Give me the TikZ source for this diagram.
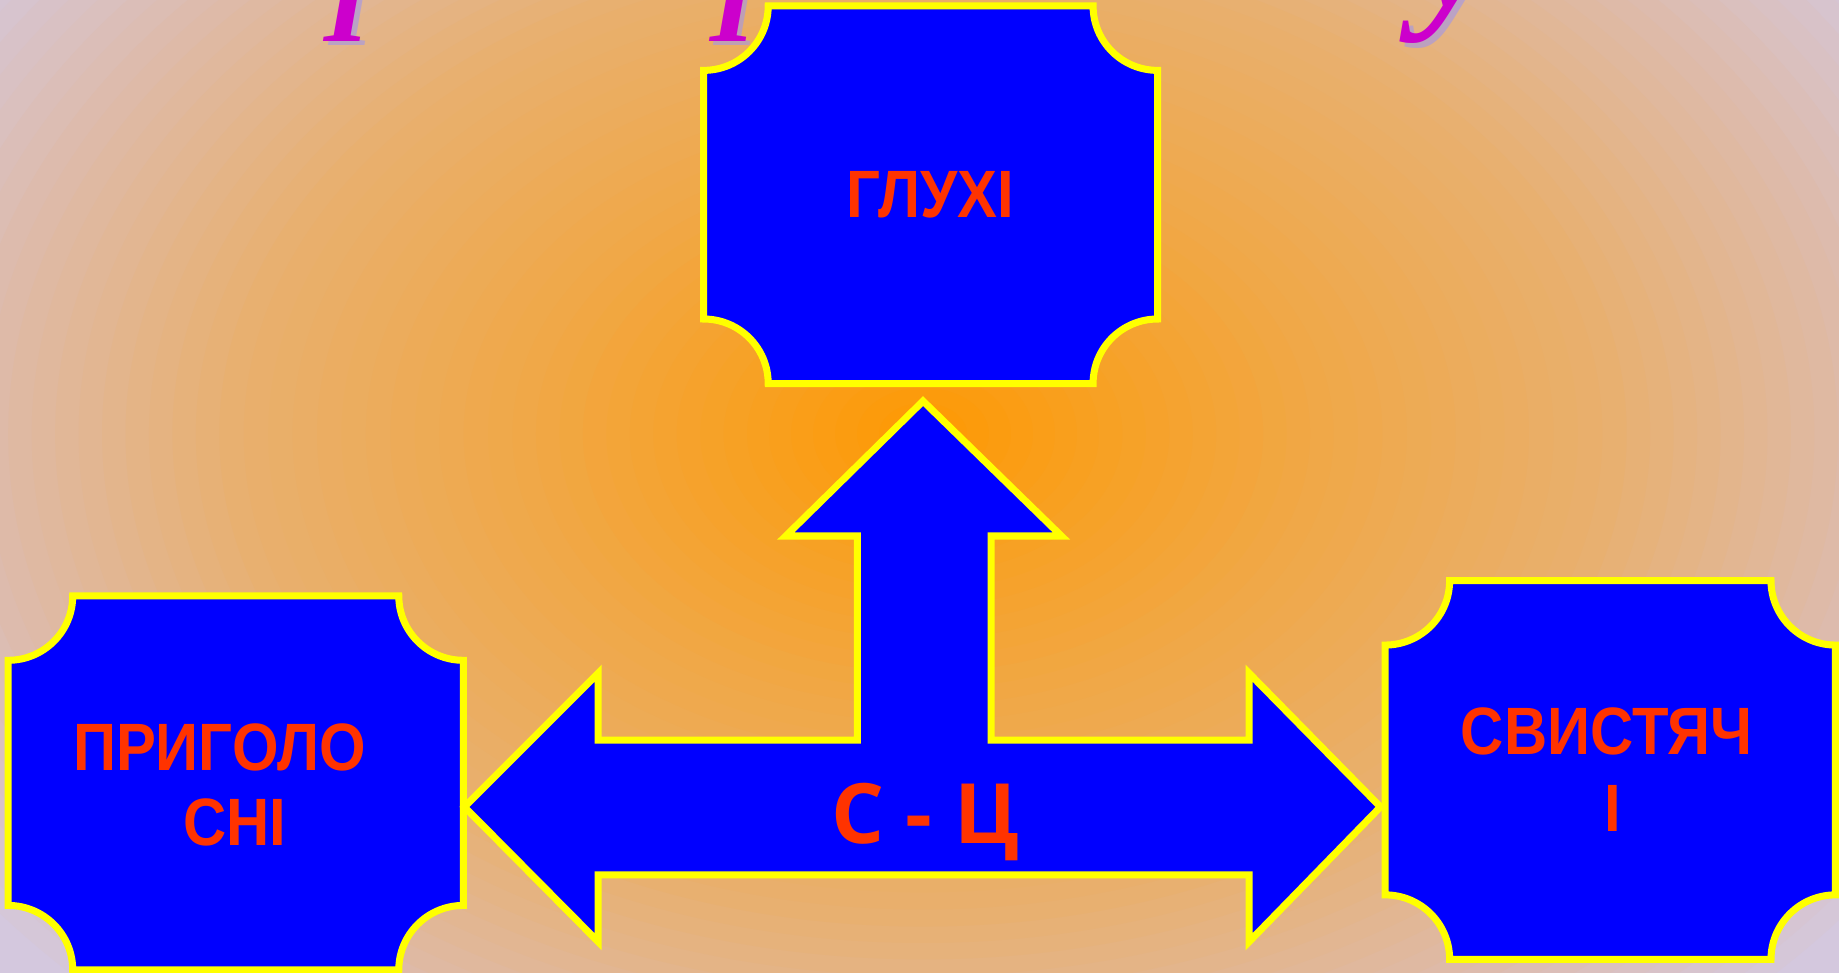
\documentclass[tikz,border=0pt]{standalone}
\usepackage{fontspec}
\setmainfont{Liberation Sans}
\newfontfamily\titlefont{Liberation Serif}
\newfontfamily\pairfont{Open Sans}
\definecolor{boxblue}{RGB}{0,0,255}
\definecolor{edgeyellow}{RGB}{255,255,0}
\definecolor{labelred}{RGB}{255,51,0}
\definecolor{titlemag}{RGB}{204,0,204}
\definecolor{titleshadow}{RGB}{160,150,235}
\definecolor{bgca}{RGB}{255,152,0}
\definecolor{bgcb}{RGB}{248,160,32}
\definecolor{bgcc}{RGB}{240,168,72}
\definecolor{bgcd}{RGB}{232,176,112}
\definecolor{bgce}{RGB}{222,186,168}
\definecolor{bgcf}{RGB}{212,200,222}
\tikzset{
  notched/.style={fill=boxblue, draw=edgeyellow, line width=6},
  arrowshape/.style={fill=boxblue, draw=edgeyellow, line width=6},
  lbl/.style={text=labelred, inner sep=0pt, font=\fontsize{51}{60}\selectfont\bfseries},
  biglbl/.style={text=labelred, inner sep=0pt, font=\pairfont\fontsize{71}{80}\selectfont\bfseries},
  titleglyph/.style={text=titlemag, inner sep=0pt, anchor=base},
  titleglyphshadow/.style={text=titleshadow, opacity=0.6, inner sep=0pt, anchor=base}
}
\newcommand{\notchedbox}[4]{%
  \draw[notched] (#1+55,#2) -- (#3-55,#2)
    arc[start angle=180, end angle=90, radius=55] -- (#3,#4-55)
    arc[start angle=270, end angle=180, radius=55] -- (#1+55,#4)
    arc[start angle=0, end angle=-90, radius=55] -- (#1,#2+55)
    arc[start angle=90, end angle=0, radius=55] -- cycle;}
\newcommand{\glowband}[5]{%
  \foreach \j in {#5,...,1}{%
    \pgfmathsetmacro\glowt{#1+(#2-#1)*\j/#5}%
    \pgfmathtruncatemacro\glowp{100*\j/#5}%
    \fill[#4!\glowp!#3] (787,370) ellipse [x radius=1000*\glowt, y radius=700*\glowt];
  }}
\newcommand{\tall}[1]{\scalebox{1}[1.12]{#1}}
\begin{document}
\begin{tikzpicture}[x=1pt, y=-1pt]
\useasboundingbox (0,0) rectangle (1568,829.6);
\clip (0,0) rectangle (1568,829.6);
% background glow
\fill[bgcf] (0,0) rectangle (1568,829.6);
\glowband{0.8}{1.0}{bgce}{bgcf}{10}
\glowband{0.6}{0.8}{bgcd}{bgce}{10}
\glowband{0.35}{0.6}{bgcc}{bgcd}{12}
\glowband{0.15}{0.35}{bgcb}{bgcc}{10}
\glowband{0}{0.15}{bgca}{bgcb}{8}
% cut-off title glyphs
\node[titleglyphshadow, font=\titlefont\fontsize{100}{100}\selectfont\bfseries\itshape] (tgsa) at (300,39) {І};
\node[titleglyph, font=\titlefont\fontsize{100}{100}\selectfont\bfseries\itshape] (tga) at (296,35) {І};
\node[titleglyphshadow, font=\titlefont\fontsize{100}{100}\selectfont\bfseries\itshape] (tgsb) at (629,39) {І};
\node[titleglyph, font=\titlefont\fontsize{100}{100}\selectfont\bfseries\itshape] (tgb) at (625,35) {І};
\node[titleglyphshadow, font=\titlefont\fontsize{150}{160}\selectfont\bfseries\itshape] (tgsc) at (1246,9) {у};
\node[titleglyph, font=\titlefont\fontsize{150}{160}\selectfont\bfseries\itshape] (tgc) at (1242,5) {у};
% boxes
\notchedbox{600}{5}{987}{327}
\notchedbox{7}{508}{395}{827}
\notchedbox{1181}{495}{1565}{818}
% three-way arrow
\draw[arrowshape] (396,688) -- (510,574) -- (510,631) -- (731,631) -- (731,457)
  -- (670,457) -- (787,342) -- (905,457) -- (845,457) -- (845,631)
  -- (1065,631) -- (1065,574) -- (1177,688) -- (1065,803) -- (1065,746)
  -- (510,746) -- (510,803) -- cycle;
% labels
\node[lbl] (glukhi) at (793,166) {\tall{ГЛУХІ}};
\node[lbl] (prygoloa) at (187,637) {\tall{ПРИГОЛО}};
\node[lbl] (prygolob) at (200,701) {\tall{СНІ}};
\node[lbl] (svystiacha) at (1370,624) {\tall{СВИСТЯЧ}};
\node[lbl] (svystiachb) at (1375,689) {\tall{І}};
\node[biglbl, anchor=base] (pair) at (789,719) {С - Ц};
\end{tikzpicture}
\end{document}
